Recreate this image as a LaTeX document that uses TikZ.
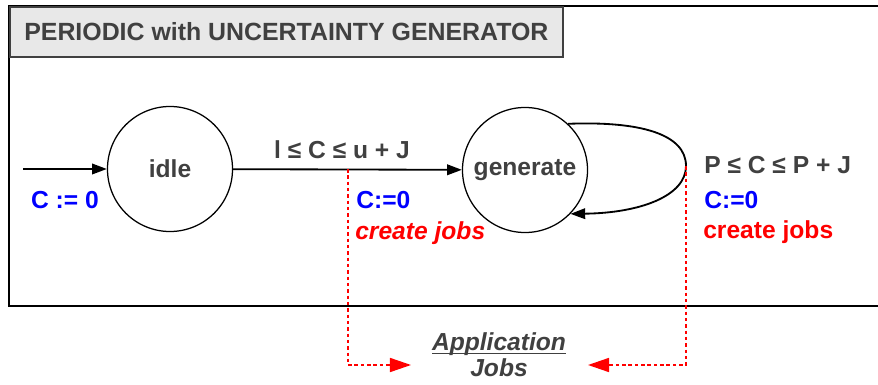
\documentclass[tikz,border=0pt]{standalone}
\usepackage{fontspec}
\setmainfont{Liberation Sans}
\usepackage{xcolor}
\usepackage{tikz}
\usetikzlibrary{arrows.meta, positioning}
\definecolor{mydark}{RGB}{64,64,64}
\definecolor{myblue}{RGB}{0,0,255}
\definecolor{myred}{RGB}{255,0,0}
\definecolor{hdrgray}{RGB}{232,232,232}
\tikzset{
  state/.style={circle, draw=black, fill=white, minimum size=3.125cm,
    font=\fontsize{17.5}{21}\selectfont\bfseries, text=mydark, line width=0.9pt},
  header/.style={rectangle, draw=mydark, fill=hdrgray, line width=1.1pt,
    minimum width=13.825cm, minimum height=1.25cm, inner sep=0pt,
    font=\fontsize{17.7}{21}\selectfont\bfseries, text=mydark},
  guard/.style={font=\fontsize{17.5}{21}\selectfont\bfseries, text=mydark, inner sep=0pt},
  reset/.style={font=\fontsize{17.5}{21}\selectfont\bfseries, text=myblue, inner sep=0pt},
  action/.style={font=\fontsize{17.5}{21}\selectfont\bfseries, text=myred, inner sep=0pt},
  arrow/.style={-{Triangle[length=10.5pt, width=7.5pt]}, line width=1.3pt, color=black},
  redarrow/.style={-{Triangle[length=15pt, width=10pt]}, line width=1.1pt, color=myred,
    dash pattern=on 2.5pt off 2pt},
  frame/.style={line width=1.7pt, color=black}
}

\begin{document}
\begin{tikzpicture}[x=0.025cm, y=-0.025cm]
  \useasboundingbox (0,0) rectangle (878,385);

  % Automaton frame and title
  \draw[frame] (878,6) -- (9,6) -- (9,306) -- (878,306);
  \node[header, anchor=north west] (title) at (9,6) {PERIODIC with UNCERTAINTY GENERATOR};

  % States
  \node[state] (idle) at (170,169) {idle};
  \node[state] (gen) at (525,170) {generate};

  % Initial transition (Left side)
  \coordinate (init) at (23,169);
  \draw[arrow] (init) -- (idle);
  \node[reset] (initreset) at (65,200) {C := 0};

  % idle -> generate
  \draw[arrow] (idle) -- (gen);
  \node[guard] (g1) at (342,150) {l ≤ C ≤ u + J};
  \node[reset, anchor=west] (r1) at (356,200) {C:=0};
  \node[action, anchor=west] (a1) at (355,233) {\itshape create jobs};

  % Self loop on generate (Right side)
  \coordinate (loopR) at (686,166);
  \draw[arrow] (gen.47) .. controls (640,121) and (686,134) .. (loopR)
    .. controls (686,196) and (640,213) .. (gen.-44);
  \node[guard, anchor=west] (g2) at (704,165) {P ≤ C ≤ P + J};
  \node[reset, anchor=west] (r2) at (704,200) {C:=0};
  \node[action, anchor=west] (a2) at (703,232) {create jobs};

  % Jobs handed to the application
  \node[guard, align=center, font=\fontsize{17.5}{18.5}\selectfont\bfseries\itshape] (jobs) at (499,364)
    {\underline{\smash{Application}}\\Jobs};
  \coordinate (jobsL) at (348,169);
  \coordinate (jobsR) at (411,365);
  \coordinate (jobsLR) at (588,365);
  \draw[redarrow] (jobsL) |- (jobsR);
  \draw[redarrow] (loopR) |- (jobsLR);
\end{tikzpicture}
\end{document}
